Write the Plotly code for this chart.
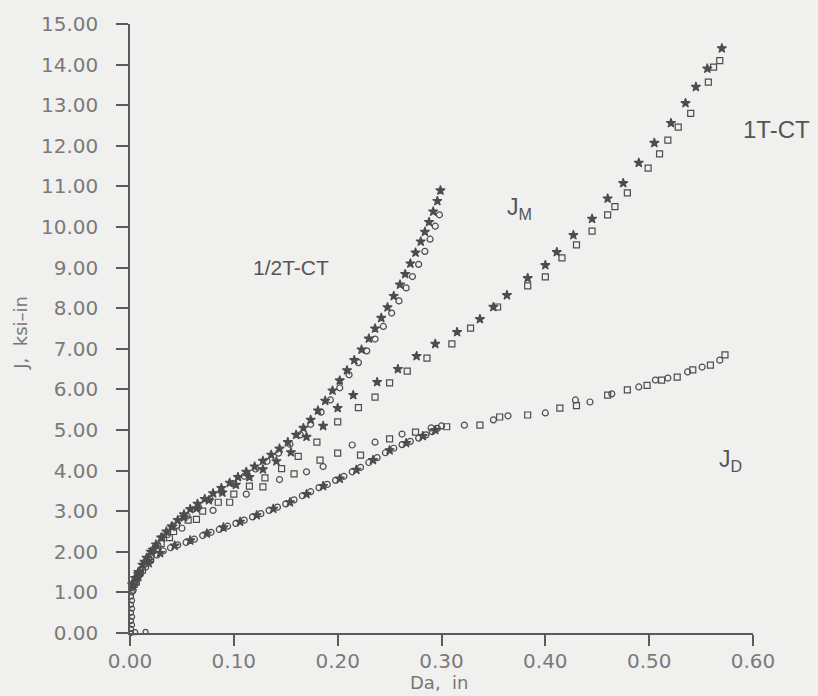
import plotly.graph_objects as go

# ---------------- data ----------------
# 1/2T-CT, J_M (two specimens)
half_jm_a_x = [0.002, 0.005, 0.008, 0.012, 0.016, 0.020, 0.025, 0.030, 0.035, 0.040, 0.046, 0.052, 0.058,
               0.065, 0.072, 0.080, 0.088, 0.096, 0.104, 0.112, 0.120, 0.128, 0.136, 0.144, 0.152, 0.160,
               0.167, 0.174, 0.181, 0.188, 0.195, 0.202, 0.209, 0.216, 0.223, 0.230, 0.236, 0.242, 0.248,
               0.254, 0.260, 0.265, 0.270, 0.275, 0.280, 0.284, 0.288, 0.292, 0.296, 0.299]
half_jm_a_y = [1.20, 1.35, 1.50, 1.68, 1.85, 2.00, 2.18, 2.35, 2.50, 2.62, 2.78, 2.92, 3.05,
               3.18, 3.30, 3.44, 3.57, 3.70, 3.84, 3.97, 4.10, 4.24, 4.39, 4.54, 4.70, 4.88,
               5.05, 5.25, 5.48, 5.72, 5.97, 6.22, 6.47, 6.72, 6.98, 7.25, 7.50, 7.76, 8.02,
               8.30, 8.58, 8.84, 9.10, 9.37, 9.64, 9.88, 10.12, 10.38, 10.64, 10.90]

half_jm_b_x = [0.004, 0.010, 0.018, 0.027, 0.036, 0.045, 0.055, 0.066, 0.077, 0.088, 0.099, 0.110, 0.121,
               0.132, 0.143, 0.154, 0.164, 0.174, 0.184, 0.193, 0.202, 0.211, 0.220, 0.228, 0.236, 0.244,
               0.252, 0.259, 0.266, 0.272, 0.278, 0.284, 0.289, 0.294, 0.298]
half_jm_b_y = [1.25, 1.55, 1.85, 2.15, 2.42, 2.65, 2.88, 3.10, 3.30, 3.49, 3.68, 3.86, 4.04,
               4.23, 4.43, 4.65, 4.88, 5.14, 5.44, 5.74, 6.04, 6.36, 6.66, 6.95, 7.24, 7.55,
               7.88, 8.18, 8.50, 8.78, 9.08, 9.40, 9.70, 10.02, 10.30]

# 1T-CT, J_M (two specimens)
one_jm_a_x = [0.003, 0.008, 0.014, 0.022, 0.031, 0.041, 0.052, 0.064, 0.076, 0.089, 0.102, 0.115, 0.128,
              0.141, 0.155, 0.170, 0.186, 0.200, 0.215, 0.238, 0.258, 0.276, 0.294, 0.315, 0.337, 0.350,
              0.363, 0.383, 0.400, 0.411, 0.427, 0.445, 0.460, 0.475, 0.490, 0.505, 0.521, 0.535, 0.545,
              0.556, 0.570]
one_jm_a_y = [1.15, 1.45, 1.75, 2.05, 2.35, 2.62, 2.85, 3.07, 3.27, 3.46, 3.65, 3.84, 4.03,
              4.23, 4.45, 4.83, 5.10, 5.54, 5.86, 6.18, 6.50, 6.82, 7.12, 7.41, 7.73, 8.03,
              8.32, 8.74, 9.06, 9.38, 9.80, 10.20, 10.70, 11.08, 11.58, 12.07, 12.56, 13.05, 13.45,
              13.90, 14.40]

one_jm_b_x = [0.006, 0.012, 0.020, 0.030, 0.042, 0.056, 0.070, 0.085, 0.100, 0.115, 0.130, 0.146, 0.162,
              0.180, 0.200, 0.220, 0.236, 0.250, 0.267, 0.286, 0.310, 0.328, 0.354, 0.383, 0.400, 0.416,
              0.430, 0.445, 0.460, 0.467, 0.479, 0.499, 0.510, 0.518, 0.528, 0.540, 0.557, 0.562, 0.568]
one_jm_b_y = [1.25, 1.55, 1.88, 2.20, 2.50, 2.78, 3.00, 3.22, 3.42, 3.62, 3.82, 4.05, 4.35,
              4.70, 5.20, 5.55, 5.81, 6.16, 6.45, 6.77, 7.12, 7.51, 8.03, 8.55, 8.77, 9.24,
              9.56, 9.90, 10.30, 10.50, 10.84, 11.45, 11.80, 12.14, 12.46, 12.80, 13.57, 13.94, 14.10]

# 1/2T-CT, J_D (two specimens)
half_jd_a_x = [0.003, 0.006, 0.010, 0.015, 0.020, 0.026, 0.032, 0.039, 0.046, 0.054, 0.062, 0.070, 0.078,
               0.086, 0.094, 0.102, 0.110, 0.118, 0.126, 0.134, 0.142, 0.150, 0.158, 0.166, 0.174, 0.182,
               0.190, 0.198, 0.206, 0.214, 0.222, 0.230, 0.238, 0.246, 0.254, 0.262, 0.270, 0.278, 0.285,
               0.291, 0.296, 0.300]
half_jd_a_y = [1.05, 1.25, 1.45, 1.62, 1.78, 1.92, 2.02, 2.10, 2.17, 2.23, 2.31, 2.40, 2.48,
               2.55, 2.63, 2.70, 2.78, 2.86, 2.94, 3.02, 3.10, 3.18, 3.28, 3.38, 3.48, 3.58,
               3.66, 3.76, 3.86, 3.97, 4.08, 4.20, 4.32, 4.44, 4.55, 4.64, 4.72, 4.80, 4.88,
               4.96, 5.04, 5.10]

half_jd_b_x = [0.008, 0.018, 0.029, 0.043, 0.058, 0.074, 0.090, 0.106, 0.122, 0.138, 0.154, 0.170, 0.186,
               0.202, 0.218, 0.234, 0.250, 0.266, 0.282, 0.294]
half_jd_b_y = [1.38, 1.72, 1.97, 2.15, 2.28, 2.45, 2.60, 2.74, 2.90, 3.06, 3.22, 3.42, 3.62,
               3.80, 4.02, 4.26, 4.50, 4.68, 4.85, 5.00]

# 1T-CT, J_D (two specimens)
one_jd_a_x = [0.004, 0.018, 0.038, 0.064, 0.096, 0.128, 0.158, 0.183, 0.200, 0.222, 0.250, 0.275, 0.305,
              0.337, 0.356, 0.383, 0.414, 0.430, 0.460, 0.479, 0.498, 0.512, 0.527, 0.542, 0.559, 0.573]
one_jd_a_y = [1.20, 1.80, 2.35, 2.80, 3.22, 3.60, 3.92, 4.26, 4.43, 4.38, 4.78, 4.95, 5.08,
              5.12, 5.32, 5.37, 5.54, 5.60, 5.86, 5.99, 6.10, 6.23, 6.30, 6.48, 6.60, 6.85]

one_jd_b_x = [0.010, 0.027, 0.050, 0.080, 0.112, 0.144, 0.170, 0.186, 0.214, 0.236, 0.262, 0.290, 0.322,
              0.350, 0.364, 0.400, 0.429, 0.443, 0.464, 0.490, 0.506, 0.518, 0.537, 0.551, 0.568]
one_jd_b_y = [1.50, 2.08, 2.58, 3.02, 3.42, 3.78, 3.97, 4.10, 4.63, 4.70, 4.90, 5.05, 5.12,
              5.25, 5.35, 5.42, 5.74, 5.69, 5.89, 6.06, 6.23, 6.28, 6.43, 6.55, 6.72]

# initial blunting points at the origin
blunt_x = [0.001, 0.001, 0.002, 0.001, 0.002, 0.001, 0.002, 0.001, 0.002, 0.001, 0.002, 0.001, 0.005, 0.015]
blunt_y = [0.00, 0.10, 0.20, 0.30, 0.40, 0.50, 0.60, 0.70, 0.80, 0.90, 1.00, 1.10, 0.02, 0.03]

x_ticks = [0.0, 0.1, 0.2, 0.3, 0.4, 0.5, 0.6]
y_ticks = [0, 1, 2, 3, 4, 5, 6, 7, 8, 9, 10, 11, 12, 13, 14, 15]

# ---------------- figure ----------------
INK = "#4d4d4d"
BG = "#f0f0ee"

def pts(x, y, symbol, size=6):
    return go.Scatter(x=x, y=y, mode="markers", showlegend=False, cliponaxis=False,
                      marker=dict(symbol=symbol, size=size, color=INK,
                                  line=dict(color=INK, width=1.2)))

fig = go.Figure()
fig.add_trace(pts(blunt_x, blunt_y, "circle-open", 5))
fig.add_trace(pts(half_jd_a_x, half_jd_a_y, "circle-open"))
fig.add_trace(pts(half_jd_b_x, half_jd_b_y, "star", 7))
fig.add_trace(pts(one_jd_a_x, one_jd_a_y, "square-open"))
fig.add_trace(pts(one_jd_b_x, one_jd_b_y, "circle-open"))
fig.add_trace(pts(half_jm_a_x, half_jm_a_y, "star", 7))
fig.add_trace(pts(half_jm_b_x, half_jm_b_y, "circle-open"))
fig.add_trace(pts(one_jm_a_x, one_jm_a_y, "star", 7))
fig.add_trace(pts(one_jm_b_x, one_jm_b_y, "square-open"))

label_font = dict(family="Liberation Sans, Arial, sans-serif", size=21, color="#555555")
sub_font = dict(family="Liberation Sans, Arial, sans-serif", size=23, color="#555555")
fig.add_annotation(x=0.155, y=9.0, text="1/2T-CT", showarrow=False, font=label_font)
fig.add_annotation(x=0.375, y=10.45, text="J<sub>M</sub>", showarrow=False, font=sub_font)
fig.add_annotation(x=1.038, y=0.826, xref="paper", yref="paper", xanchor="center", yanchor="middle",
                   text="1T-CT", showarrow=False,
                   font=dict(family="Liberation Sans, Arial, sans-serif", size=24, color="#555555"))
fig.add_annotation(x=0.578, y=4.25, text="J<sub>D</sub>", showarrow=False, font=sub_font)

title_font = dict(family="DejaVu Sans, sans-serif", size=18, color="#777777")
fig.add_annotation(x=-0.175, y=0.493, xref="paper", yref="paper", xanchor="center", yanchor="middle",
                   text="J,  ksi\u2013in", textangle=-90, showarrow=False, font=title_font)
fig.add_annotation(x=0.496, y=-0.081, xref="paper", yref="paper", xanchor="center", yanchor="middle",
                   text="Da,  in", showarrow=False, font=title_font)

tick_font = dict(family="DejaVu Sans, sans-serif", size=20, color="#7a7a7a")
fig.update_xaxes(range=[0, 0.6], tickvals=x_ticks, tickformat=".2f", showgrid=False, zeroline=False,
                 showline=True, linecolor="#5a5a5a", linewidth=1.5, ticks="outside", ticklen=11,
                 tickcolor="#5a5a5a", tickwidth=1.5, tickfont=tick_font, ticklabelstandoff=-2)
fig.update_yaxes(range=[0, 15], tickvals=y_ticks, tickformat=".2f", showgrid=False, zeroline=False,
                 showline=True, linecolor="#5a5a5a", linewidth=1.5, ticks="outside", ticklen=12,
                 tickcolor="#5a5a5a", tickwidth=1.5, tickfont=tick_font, ticklabelstandoff=14)
fig.update_layout(width=818, height=696, margin=dict(l=130, r=65, t=24, b=63),
                  paper_bgcolor=BG, plot_bgcolor=BG)

fig.write_html("out.html")
